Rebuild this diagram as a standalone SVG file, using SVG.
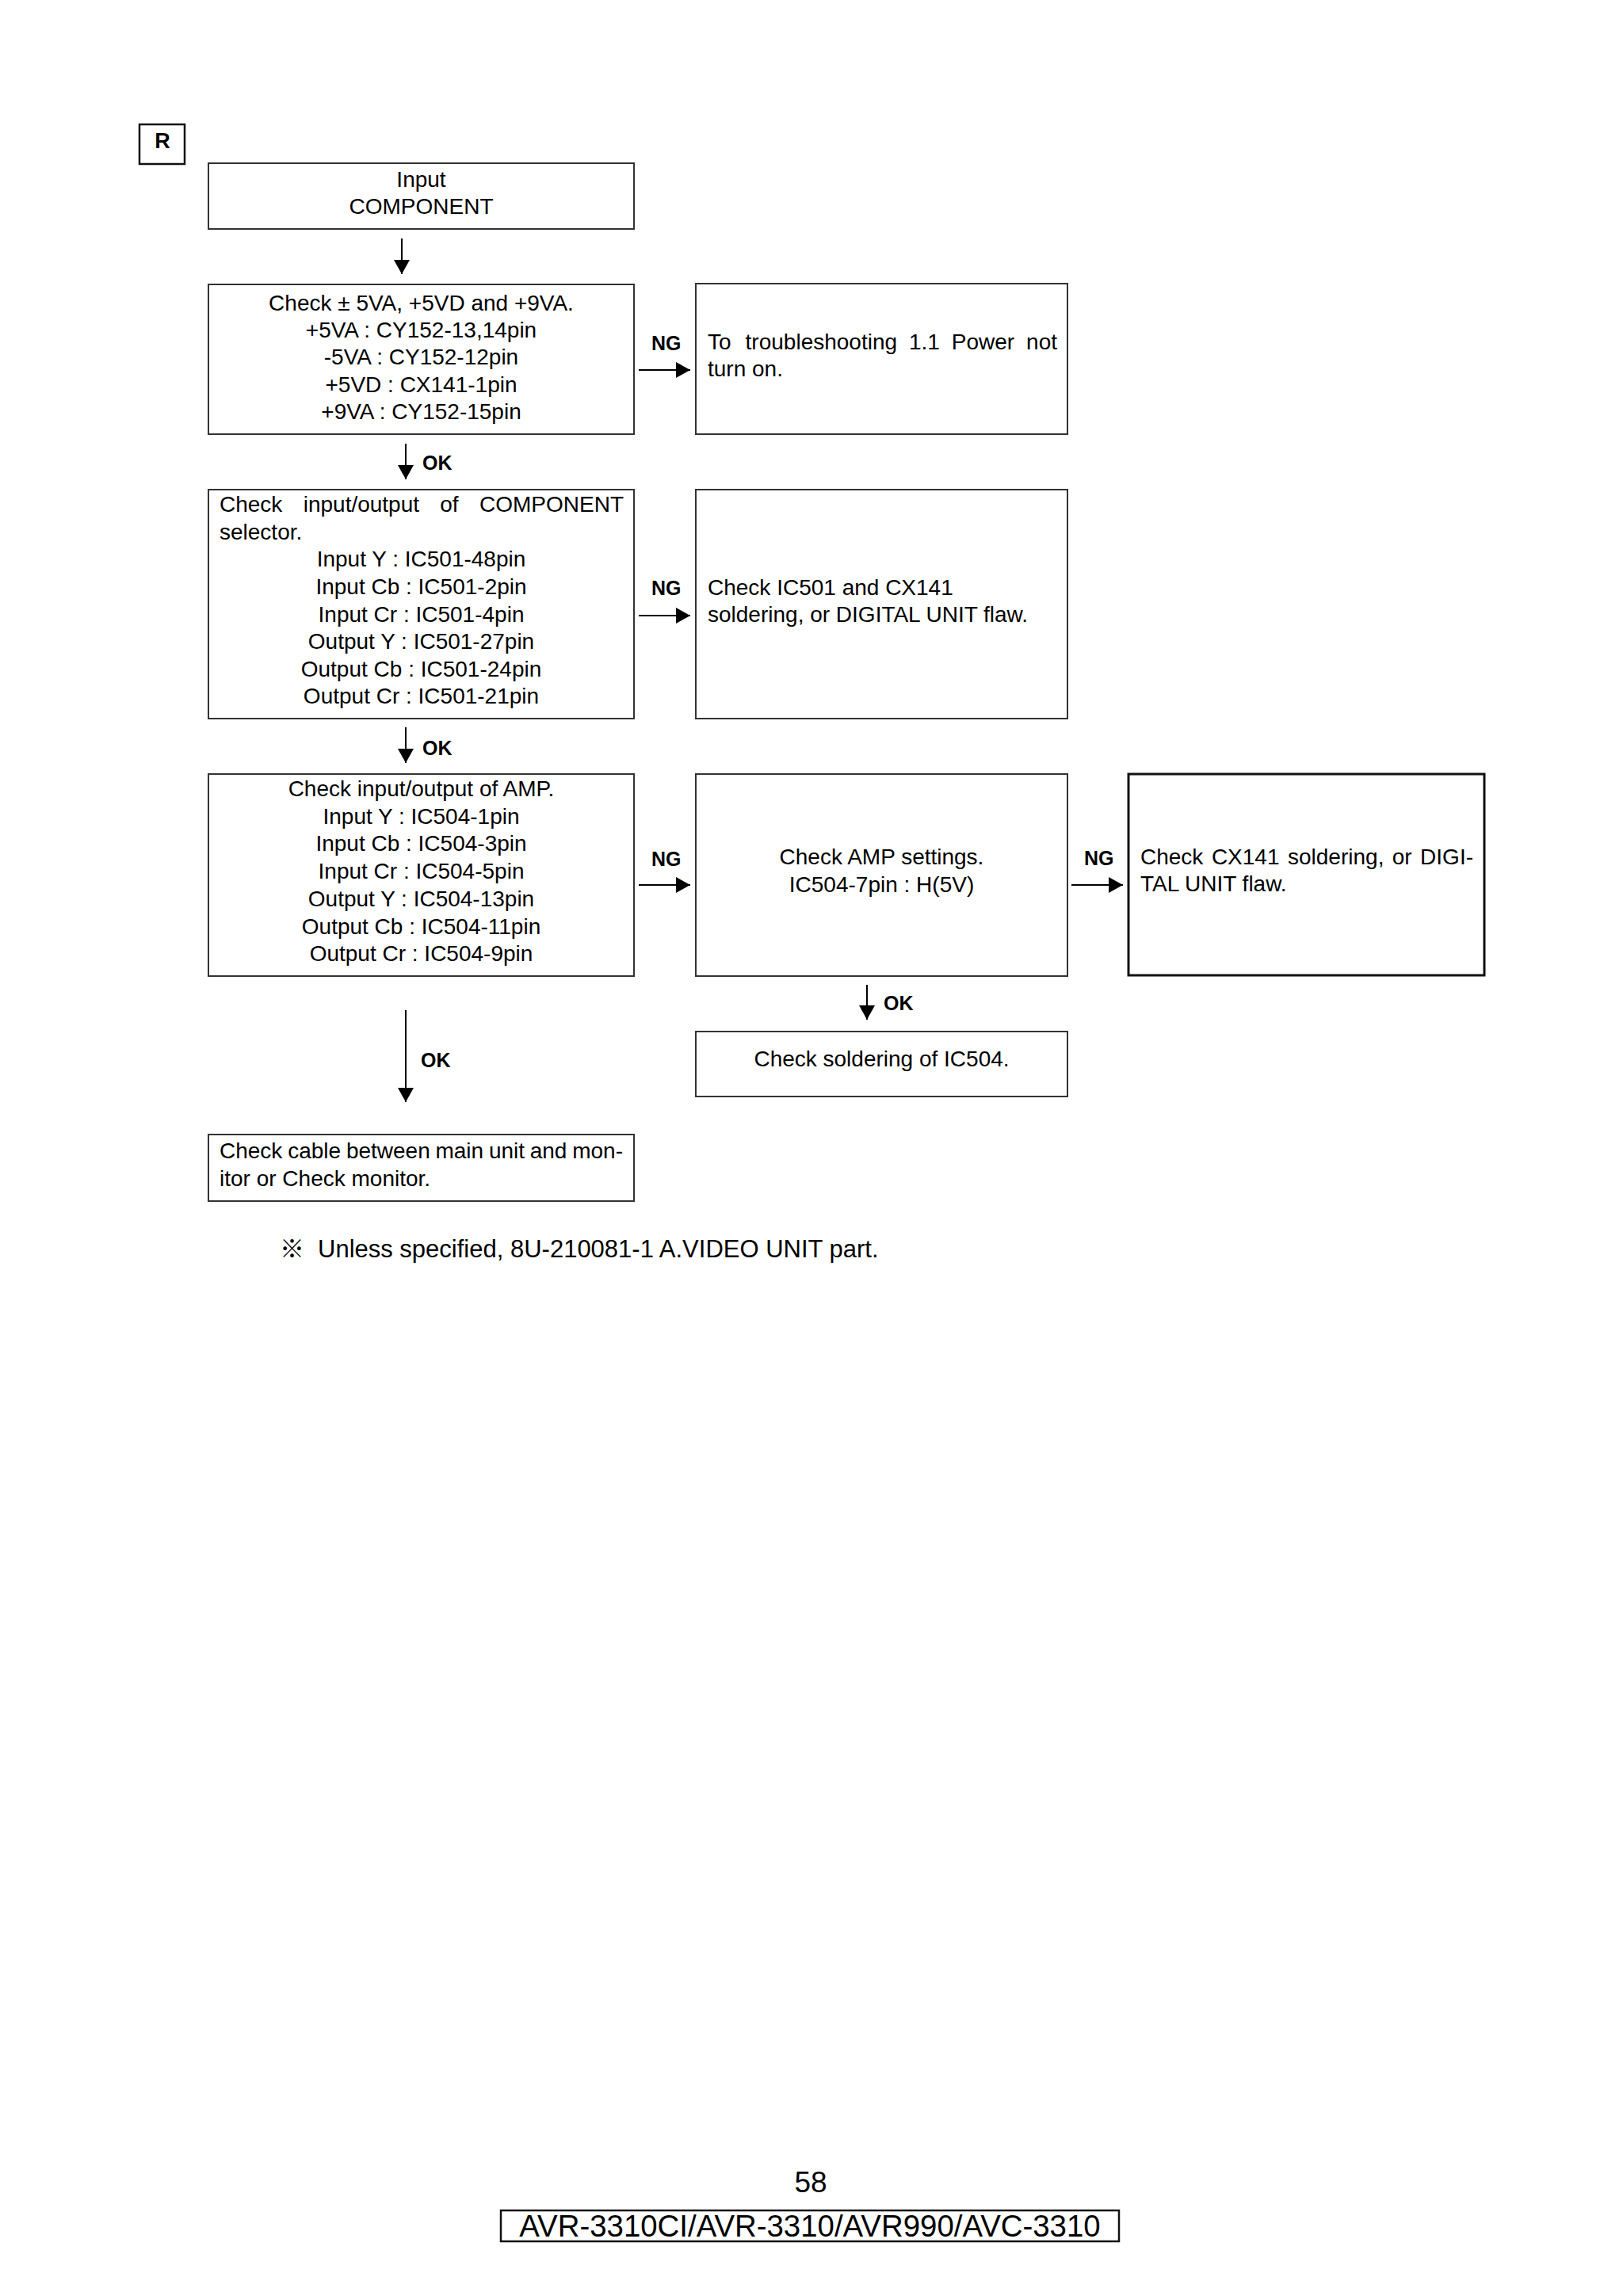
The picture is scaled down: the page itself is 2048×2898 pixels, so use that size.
<svg xmlns="http://www.w3.org/2000/svg" width="2048" height="2898" viewBox="0 0 2048 2898">
<defs>
<style>
.bg{fill:#fff}
.box{fill:#fff;stroke:#333;stroke-width:2}
.boxb{fill:#fff;stroke:#111;stroke-width:3}
.t{font-family:"Liberation Sans",Arial,"Noto Sans CJK JP",sans-serif;font-size:28px;fill:#000}
.c{text-anchor:middle}
.e{text-anchor:end}
.lbl{font-family:"Liberation Sans",Arial,sans-serif;font-size:25px;font-weight:bold;fill:#000}
.ln{stroke:#000;stroke-width:2;fill:none}
</style>
<marker id="ah" markerUnits="userSpaceOnUse" markerWidth="18" markerHeight="20" refX="18" refY="10" orient="auto">
<path d="M0,0 L18,10 L0,20 Z" fill="#000"/>
</marker>
</defs>
<rect class="bg" x="0" y="0" width="2048" height="2898"/>

<g id="tag-r">
<rect x="176" y="157" width="57" height="50" fill="#fff" stroke="#111" stroke-width="2.5"/>
<text class="lbl c" x="205" y="187" style="font-size:27px">R</text>
</g>

<g id="n-input">
<rect class="box" x="263" y="206" width="537" height="83"/>
<text class="t c" x="531.5" y="236">Input</text>
<text class="t c" x="531.5" y="270">COMPONENT</text>
</g>

<g id="n-power">
<rect class="box" x="263" y="359" width="537" height="189"/>
<text class="t c" x="531.5" y="392">Check ± 5VA, +5VD and +9VA.</text>
<text class="t c" x="531.5" y="426">+5VA : CY152-13,14pin</text>
<text class="t c" x="531.5" y="460">-5VA : CY152-12pin</text>
<text class="t c" x="531.5" y="495">+5VD : CX141-1pin</text>
<text class="t c" x="531.5" y="529">+9VA : CY152-15pin</text>
</g>

<g id="n-power-ng">
<rect class="box" x="878" y="358" width="469" height="190"/>
<text class="t" y="441"><tspan x="893">To</tspan><tspan x="940.6">troubleshooting</tspan><tspan x="1146.9">1.1</tspan><tspan x="1200.8">Power</tspan></text>
<text class="t e" x="1334" y="441">not</text>
<text class="t" x="893" y="475">turn on.</text>
</g>

<g id="n-selector">
<rect class="box" x="263" y="618" width="537" height="289"/>
<text class="t" y="646"><tspan x="277">Check</tspan><tspan x="382.7">input/output</tspan><tspan x="555.3">of</tspan></text>
<text class="t e" x="787" y="646">COMPONENT</text>
<text class="t" x="277" y="681">selector.</text>
<text class="t c" x="531.5" y="715">Input Y : IC501-48pin</text>
<text class="t c" x="531.5" y="750">Input Cb : IC501-2pin</text>
<text class="t c" x="531.5" y="785">Input Cr : IC501-4pin</text>
<text class="t c" x="531.5" y="819">Output Y : IC501-27pin</text>
<text class="t c" x="531.5" y="854">Output Cb : IC501-24pin</text>
<text class="t c" x="531.5" y="888">Output Cr : IC501-21pin</text>
</g>

<g id="n-selector-ng">
<rect class="box" x="878" y="618" width="469" height="289"/>
<text class="t" x="893" y="751">Check IC501 and CX141</text>
<text class="t" x="893" y="785">soldering, or DIGITAL UNIT flaw.</text>
</g>

<g id="n-amp">
<rect class="box" x="263" y="977" width="537" height="255"/>
<text class="t c" x="531.5" y="1005">Check input/output of AMP.</text>
<text class="t c" x="531.5" y="1040">Input Y : IC504-1pin</text>
<text class="t c" x="531.5" y="1074">Input Cb : IC504-3pin</text>
<text class="t c" x="531.5" y="1109">Input Cr : IC504-5pin</text>
<text class="t c" x="531.5" y="1144">Output Y : IC504-13pin</text>
<text class="t c" x="531.5" y="1179">Output Cb : IC504-11pin</text>
<text class="t c" x="531.5" y="1213">Output Cr : IC504-9pin</text>
</g>

<g id="n-amp-settings">
<rect class="box" x="878" y="977" width="469" height="255"/>
<text class="t c" x="1112.5" y="1091">Check AMP settings.</text>
<text class="t c" x="1112.5" y="1126">IC504-7pin : H(5V)</text>
</g>

<g id="n-digital">
<rect class="boxb" x="1424" y="977" width="449" height="254"/>
<text class="t" y="1091"><tspan x="1439">Check</tspan><tspan x="1528.9">CX141</tspan><tspan x="1625">soldering,</tspan><tspan x="1756.8">or</tspan></text>
<text class="t e" x="1859" y="1091">DIGI-</text>
<text class="t" x="1439" y="1125">TAL UNIT flaw.</text>
</g>

<g id="n-solder">
<rect class="box" x="878" y="1302" width="469" height="82"/>
<text class="t c" x="1112.5" y="1346">Check soldering of IC504.</text>
</g>

<g id="n-cable">
<rect class="box" x="263" y="1432" width="537" height="84"/>
<text class="t" y="1462"><tspan x="277">Check</tspan><tspan x="363.2">cable</tspan><tspan x="436.9">between</tspan><tspan x="549.4">main</tspan><tspan x="616.9">unit</tspan><tspan x="668.7">and</tspan></text>
<text class="t e" x="786" y="1462">mon-</text>
<text class="t" x="277" y="1497">itor or Check monitor.</text>
</g>

<g id="connectors">
<line class="ln" x1="507" y1="301" x2="507" y2="346" marker-end="url(#ah)"/>
<line class="ln" x1="512" y1="560" x2="512" y2="605" marker-end="url(#ah)"/>
<line class="ln" x1="512" y1="918" x2="512" y2="963" marker-end="url(#ah)"/>
<line class="ln" x1="512" y1="1275" x2="512" y2="1391" marker-end="url(#ah)"/>
<line class="ln" x1="1094" y1="1243" x2="1094" y2="1287" marker-end="url(#ah)"/>
<line class="ln" x1="806" y1="467" x2="871" y2="467" marker-end="url(#ah)"/>
<line class="ln" x1="806" y1="777" x2="871" y2="777" marker-end="url(#ah)"/>
<line class="ln" x1="806" y1="1117" x2="871" y2="1117" marker-end="url(#ah)"/>
<line class="ln" x1="1352" y1="1117" x2="1417" y2="1117" marker-end="url(#ah)"/>
<text class="lbl" x="533" y="593">OK</text>
<text class="lbl" x="533" y="953">OK</text>
<text class="lbl" x="531" y="1347">OK</text>
<text class="lbl" x="1115" y="1275">OK</text>
<text class="lbl" x="822" y="442">NG</text>
<text class="lbl" x="822" y="751">NG</text>
<text class="lbl" x="822" y="1093">NG</text>
<text class="lbl" x="1368" y="1092">NG</text>
</g>

<g id="note">
<text class="t" x="353" y="1587" style="font-size:31px">※</text>
<text class="t" x="401" y="1587" style="font-size:31px">Unless specified, 8U-210081-1 A.VIDEO UNIT part.</text>
</g>

<g id="footer">
<text class="t c" x="1023" y="2767" style="font-size:37px">58</text>
<rect x="632" y="2790" width="780" height="39" fill="#fff" stroke="#111" stroke-width="2.5"/>
<text class="t c" x="1022" y="2823" style="font-size:38.4px">AVR-3310CI/AVR-3310/AVR990/AVC-3310</text>
</g>
</svg>
